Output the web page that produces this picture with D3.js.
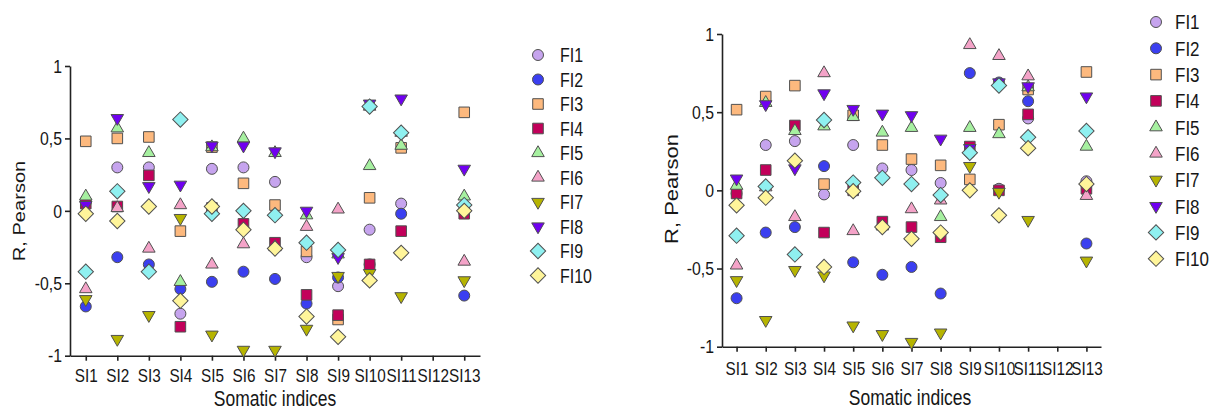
<!DOCTYPE html>
<html>
<head>
<meta charset="utf-8">
<script src="https://cdn.jsdelivr.net/npm/d3@7"></script>
<style>
  body { margin: 0; background: #fff; }
  svg { display: block; }
  text { font-family: "Liberation Sans", Arial, sans-serif; fill: #161616; }
</style>
</head>
<body>
<svg width="1211" height="411"></svg>
<script>
// categories and series
var categories = ["SI1", "SI2", "SI3", "SI4", "SI5", "SI6", "SI7", "SI8", "SI9", "SI10", "SI11", "SI12", "SI13"];
var seriesNames = ["FI1", "FI2", "FI3", "FI4", "FI5", "FI6", "FI7", "FI8", "FI9", "FI10"];
var seriesColors = ["#c6a4ee", "#3b3ff0", "#fdb97e", "#c2005a", "#a6f0a0", "#f4a3c8", "#b6b400", "#7000f0", "#8ff0f0", "#fff59a"];
var seriesShapes = ["circle", "circle", "square", "square", "up", "up", "down", "down", "diamond", "diamond"];
var yTicks = [-1, -0.5, 0, 0.5, 1];

// left chart, one row per FI series, one column per SI
var leftValues = [
	[0.06, 0.30, 0.30, -0.71, 0.29, 0.30, 0.20, -0.32, -0.52, -0.13, 0.05, null, -0.01],
	[-0.66, -0.32, -0.37, -0.54, -0.49, -0.42, -0.47, -0.64, -0.46, -0.37, -0.02, null, -0.585],
	[0.48, 0.50, 0.51, -0.14, 0.44, 0.19, 0.04, -0.28, -0.75, 0.09, 0.435, null, 0.68],
	[0.05, 0.03, 0.245, -0.80, 0.02, -0.09, -0.22, -0.58, -0.72, -0.37, -0.14, null, -0.02],
	[0.10, 0.57, 0.40, -0.49, 0.44, 0.50, 0.40, -0.03, -0.30, 0.31, 0.45, null, 0.10],
	[-0.54, 0.02, -0.26, 0.04, -0.37, -0.23, -0.25, -0.11, 0.01, 0.72, 0.54, null, -0.35],
	[-0.61, -0.885, -0.72, -0.05, -0.855, -0.96, -0.96, -0.815, -0.45, -0.43, -0.59, null, -0.48],
	[0.04, 0.64, 0.17, 0.18, 0.45, 0.45, 0.41, 0.00, -0.32, 0.74, 0.775, null, 0.29],
	[-0.42, 0.135, -0.42, 0.63, -0.02, 0.00, -0.03, -0.22, -0.27, 0.72, 0.54, null, 0.04],
	[-0.02, -0.07, 0.03, -0.62, 0.03, -0.13, -0.26, -0.73, -0.87, -0.48, -0.29, null, 0.00]
];

// right chart
var rightValues = [
	[-0.02, 0.29, 0.315, -0.026, 0.29, 0.14, 0.13, 0.047, 0.24, 0.01, 0.46, null, 0.058],
	[-0.69, -0.27, -0.235, 0.155, -0.46, -0.54, -0.49, -0.66, 0.75, 0.69, 0.57, null, -0.34],
	[0.516, 0.60, 0.67, 0.04, 0.48, 0.29, 0.20, 0.16, 0.07, 0.42, 0.645, null, 0.757],
	[-0.02, 0.13, 0.415, -0.27, 0.00, -0.20, -0.235, -0.30, 0.28, 0.00, 0.486, null, 0.01],
	[0.03, 0.56, 0.38, 0.41, 0.47, 0.37, 0.40, -0.17, 0.40, 0.36, 0.66, null, 0.28],
	[-0.48, 0.02, -0.17, 0.75, -0.26, -0.23, -0.12, -0.064, 0.93, 0.86, 0.73, null, -0.035],
	[-0.575, -0.83, -0.51, -0.545, -0.865, -0.92, -0.97, -0.91, 0.155, -0.01, -0.19, null, -0.45],
	[0.075, 0.55, 0.14, 0.62, 0.52, 0.49, 0.48, 0.33, 0.27, 0.69, 0.665, null, 0.60],
	[-0.29, 0.025, -0.41, 0.45, 0.05, 0.08, 0.04, -0.03, 0.24, 0.67, 0.34, null, 0.38],
	[-0.096, -0.047, 0.19, -0.49, -0.005, -0.235, -0.31, -0.27, 0.00, -0.16, 0.27, null, 0.04]
];

var svg = d3.select("svg");
var STRETCH = 1.22; // the source text is drawn a bit tall and narrow

function symbolPath(shape) {
	var gen = d3.symbol();
	if (shape == "circle") return gen.type(d3.symbolCircle).size(95)();
	if (shape == "square") return gen.type(d3.symbolSquare).size(112)();
	if (shape == "diamond") return gen.type(d3.symbolSquare).size(118)();
	return gen.type(d3.symbolTriangle).size(68)();
}

function symbolRotate(shape) {
	if (shape == "down") return " rotate(180)";
	if (shape == "diamond") return " rotate(45)";
	return "";
}

function stretchedText(x, y, str, size, anchor) {
	return svg.append("text")
		.attr("transform", "translate(" + x + "," + y + ") scale(1," + STRETCH + ")")
		.attr("font-size", size)
		.attr("text-anchor", anchor)
		.text(str);
}

function drawPanel(p) {
	var x = d3.scalePoint().domain(categories).range([p.x0, p.x1]).padding(0.5);
	var y = d3.scaleLinear().domain([-1, 1]).range([p.yBot, p.yTop]);

	var xAxis = svg.append("g")
		.attr("transform", "translate(0," + p.yBot + ")")
		.call(d3.axisBottom(x).tickSize(5).tickSizeOuter(0).tickPadding(p.xPad));
	var yAxis = svg.append("g")
		.attr("transform", "translate(" + p.x0 + ",0)")
		.call(d3.axisLeft(y).tickValues(yTicks).tickSize(5).tickSizeOuter(0).tickPadding(3)
			.tickFormat(function(d) { return String(d).replace(".", ","); }));

	[xAxis, yAxis].forEach(function(a) {
		a.selectAll("path, line").attr("stroke", "#222").attr("stroke-width", 1.6);
		a.selectAll("text")
			.attr("fill", "#161616")
			.attr("font-family", null)
			.attr("font-size", 15.3)
			.attr("transform", "scale(1," + STRETCH + ")");
	});
	yAxis.selectAll("text").attr("font-size", 15.8);

	// points, series by series so the diamonds end up on top
	p.values.forEach(function(row, i) {
		var pts = row.map(function(v, j) { return {cat: categories[j], v: v}; })
			.filter(function(d) { return d.v != null; });
		svg.append("g").selectAll("path")
			.data(pts)
			.enter().append("path")
			.attr("d", symbolPath(seriesShapes[i]))
			.attr("transform", function(d) {
				return "translate(" + x(d.cat) + "," + y(d.v) + ")" + symbolRotate(seriesShapes[i]);
			})
			.attr("fill", seriesColors[i])
			.attr("stroke", "#505050")
			.attr("stroke-width", 1);
	});

	// axis titles
	svg.append("text")
		.attr("transform", "translate(" + p.ylabX + "," + p.ylabY + ") rotate(-90) scale(" + STRETCH + ",1)")
		.attr("font-size", p.ylabSize)
		.attr("text-anchor", "middle")
		.text("R, Pearson");
	stretchedText(p.titleX, p.titleY, "Somatic indices", 17.5, "middle");

	// legend
	seriesNames.forEach(function(name, i) {
		var ly = p.legY0 + i * p.legDy;
		svg.append("path")
			.attr("d", symbolPath(seriesShapes[i]))
			.attr("transform", "translate(" + p.legX + "," + ly + ")" + symbolRotate(seriesShapes[i]))
			.attr("fill", seriesColors[i])
			.attr("stroke", "#505050")
			.attr("stroke-width", 1);
		stretchedText(p.legX + p.legGap, ly, name, p.legSize, "start").attr("dy", "0.36em");
	});
}

drawPanel({values: leftValues, x0: 70, x1: 480, yTop: 66, yBot: 355.7, xPad: 5.3,
	ylabX: 25, ylabY: 211, ylabSize: 16.5, titleX: 275, titleY: 406.3,
	legX: 538, legY0: 55, legDy: 24.5, legGap: 22, legSize: 16});
drawPanel({values: rightValues, x0: 722, x1: 1101, yTop: 34, yBot: 346.7, xPad: 7.3,
	ylabX: 678, ylabY: 189, ylabSize: 18, titleX: 910, titleY: 405,
	legX: 1156, legY0: 22, legDy: 26.3, legGap: 19, legSize: 17});
</script>
</body>
</html>
